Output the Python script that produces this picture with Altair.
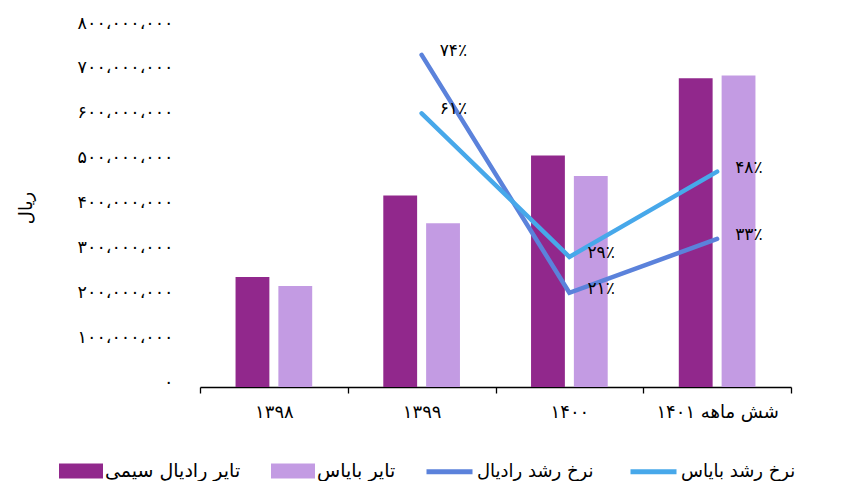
import altair as alt
import pandas as pd

# ---------------- data ----------------
categories = ["۱۳۹۸", "۱۳۹۹", "۱۴۰۰", "شش ماهه ۱۴۰۱"]
bar_series = ["تایر رادیال سیمی", "تایر بایاس"]
line_series = ["نرخ رشد رادیال", "نرخ رشد بایاس"]
radial_values = [245_000_000, 427_000_000, 516_000_000, 688_000_000]
bias_values = [225_000_000, 365_000_000, 470_000_000, 694_000_000]
growth_categories = ["۱۳۹۹", "۱۴۰۰", "شش ماهه ۱۴۰۱"]
radial_growth = [74, 21, 33]
bias_growth = [61, 29, 48]
left_ticks = [0, 100_000_000, 200_000_000, 300_000_000, 400_000_000,
              500_000_000, 600_000_000, 700_000_000, 800_000_000]
right_ticks = [0, 10, 20, 30, 40, 50, 60, 70, 80]
bar_colors = ["#91288C", "#C39BE3"]
line_colors = ["#5B82DB", "#47A8EA"]

FONT = "DejaVu Sans"
fa = str.maketrans({"0": "۰", "1": "۱", "2": "۲", "3": "۳", "4": "۴",
                    "5": "۵", "6": "۶", "7": "۷", "8": "۸", "9": "۹", ",": "،"})
left_labels = [f"{v:,}".translate(fa) for v in left_ticks]
right_labels = [f"{v}".translate(fa) + "٪" for v in right_ticks]


def arr(lst):
    return "[" + ",".join("'" + s + "'" for s in lst) + "]"


left_expr = arr(left_labels) + "[round(datum.value / 100000000)]"
right_expr = arr(right_labels) + "[round(datum.value / 10)]"

bars_df = pd.DataFrame({
    "category": categories * 2,
    "series": [bar_series[0]] * 4 + [bar_series[1]] * 4,
    "value": radial_values + bias_values,
})
lines_df = pd.DataFrame({
    "category": growth_categories * 2,
    "series": [line_series[0]] * 3 + [line_series[1]] * 3,
    "growth": radial_growth + bias_growth,
})
lines_df["label"] = [f"{v}".translate(fa) + "٪" for v in lines_df["growth"]]

x_enc = alt.X(
    "category:N",
    sort=categories,
    scale=alt.Scale(domain=categories, paddingInner=0, paddingOuter=0),
    axis=alt.Axis(title=None, labelAngle=0, domainColor="black", tickColor="black",
                  tickBand="extent", tickSize=6, labelFontSize=18, labelColor="black",
                  labelPadding=10, labelFont=FONT, domainWidth=1.3, tickWidth=1.3, grid=False),
)

rect_path = "M-1,-0.34H1V0.34H-1Z"

bars = alt.Chart(bars_df).mark_bar().encode(
    x=x_enc,
    xOffset=alt.XOffset("series:N", sort=bar_series,
                        scale=alt.Scale(domain=bar_series, paddingInner=0.21, paddingOuter=0.83)),
    y=alt.Y("value:Q", scale=alt.Scale(domain=[0, 800_000_000], nice=False),
            axis=alt.Axis(values=left_ticks, labelExpr=left_expr, title="ریال", grid=False,
                          domain=False, ticks=False, labelPadding=27, titlePadding=42,
                          labelFontSize=17.5, labelFont=FONT, labelColor="black",
                          titleFont=FONT, titleFontSize=18, titleFontWeight="normal",
                          titleColor="black", labelOffset=-5)),
    color=alt.Color("series:N", scale=alt.Scale(domain=bar_series, range=bar_colors),
                    legend=alt.Legend(
                        title=None, orient="none", legendX=-141, legendY=421,
                        direction="horizontal", columns=2, symbolSize=1936,
                        symbolType=rect_path, symbolStrokeWidth=0,
                        labelFontSize=19, labelFont=FONT, labelColor="black",
                        columnPadding=30, labelOffset=2, padding=0, labelLimit=300,
                    )),
)

y_right = alt.Scale(domain=[0, 80], nice=False)

lines = alt.Chart(lines_df).mark_line(strokeWidth=4.5, strokeCap="round").encode(
    x=alt.X("category:N", sort=categories),
    y=alt.Y("growth:Q", scale=y_right,
            axis=alt.Axis(orient="right", values=right_ticks, labelExpr=right_expr, title=None,
                          grid=False, domain=False, ticks=False, labelPadding=28,
                          labelFontSize=17.5, labelFont=FONT, labelColor="black", labelOffset=-4)),
    color=alt.Color("series:N", scale=alt.Scale(domain=line_series, range=line_colors),
                    legend=alt.Legend(
                        title=None, orient="none", legendX=224, legendY=418,
                        direction="horizontal", columns=2, symbolSize=2116,
                        symbolType="stroke", symbolStrokeWidth=5,
                        labelFontSize=18, labelFont=FONT, labelColor="black",
                        columnPadding=26, labelOffset=2, padding=0, labelLimit=300,
                    )),
    detail="series:N",
)

texts = alt.Chart(lines_df).mark_text(align="left", dx=18, dy=-4, fontSize=17,
                                       font=FONT, color="black").encode(
    x=alt.X("category:N", sort=categories),
    y=alt.Y("growth:Q", scale=y_right, axis=None),
    text="label:N",
)

chart = alt.layer(bars, alt.layer(lines, texts)).resolve_scale(
    y="independent", color="independent"
).properties(
    width=591, height=359,
    autosize=alt.AutoSizeParams(type="none"),
    padding={"left": 192, "top": 20, "right": 55, "bottom": 100},
    background="white",
).configure_view(stroke=None)

chart.save("out.html", embed_options={"renderer": "svg", "actions": False})
